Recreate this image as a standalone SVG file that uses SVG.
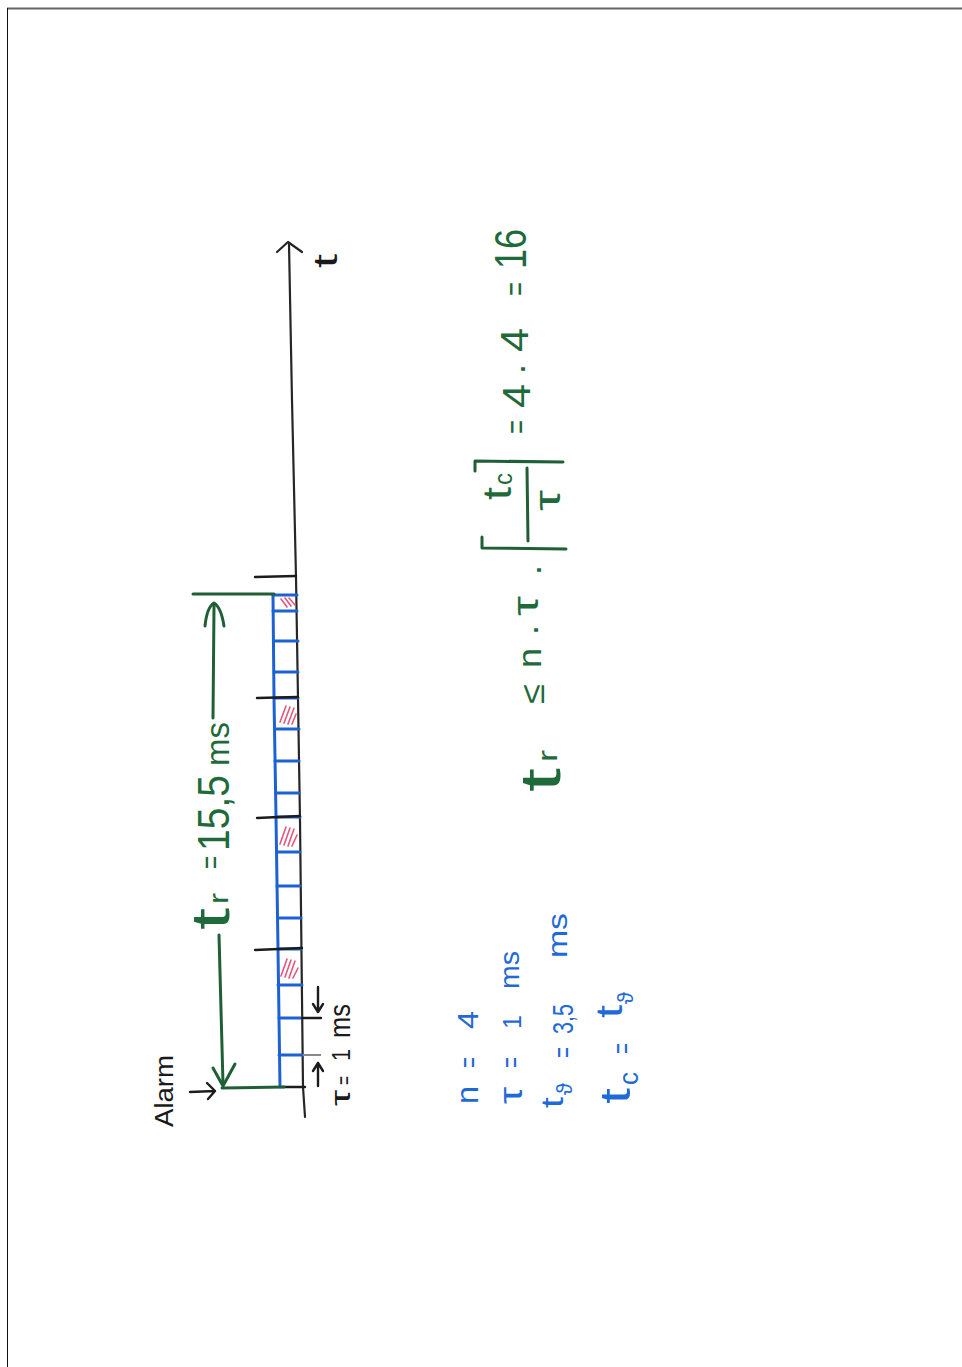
<svg xmlns="http://www.w3.org/2000/svg" width="962" height="1367" viewBox="0 0 962 1367">
<defs>
<style>
.ax{stroke:#262626;stroke-width:2.2;fill:none;stroke-linecap:round;stroke-linejoin:round}
.tk{stroke:#1c1c1c;stroke-width:2.4;fill:none;stroke-linecap:round;stroke-linejoin:round}
.bl{stroke:#1d62d4;stroke-width:3;fill:none;stroke-linecap:round;stroke-linejoin:round}
.gr{stroke:#1f5f35;stroke-width:3;fill:none;stroke-linecap:round;stroke-linejoin:round}
.ht{stroke:#e2577c;stroke-width:1.6;fill:none;stroke-linecap:round}
.tg{fill:#1f6a3a;font-family:"Liberation Sans","DejaVu Sans",sans-serif}
.tb{fill:#1f6ad6;font-family:"Liberation Sans","DejaVu Sans",sans-serif}
.tn{fill:#1a1a1a;font-family:"Liberation Sans","DejaVu Sans",sans-serif}
</style>
</defs>
<rect x="0" y="0" width="962" height="1367" fill="#ffffff"/>
<g id="page-frame">
<path d="M7,8.5 H962" stroke="#666" stroke-width="2" fill="none"/>
<path d="M7.5,8 V1367" stroke="#111" stroke-width="1" fill="none"/>
</g>

<g id="time-axis">
<path class="ax" d="M289,244 L292,400 L296,577 L300,820 L303,1087 L305,1117"/>
<path class="ax" d="M277,252 L288,242 L302,252"/>
<text class="tn" transform="translate(337,268) rotate(-90)" font-size="34" textLength="14" lengthAdjust="spacingAndGlyphs">t</text>
</g>

<g id="cells">
<path class="bl" d="M273,595 L274,698 L276,817 L278,949 L280,1087"/>
<path class="bl" d="M273,595 H297 M273,611 H297 M274,641 H298 M274,672 H298 M274,698 H298 M275,729 H299 M275,761 H299 M276,793 H299 M276,817 H300 M277,852 H300 M277,886 H300 M278,918 H301 M278,949 H301 M278,985 H302 M279,1018 H302 M279,1055 H303"/>
<path class="ht" d="M281,599 L287,607 M285,598 L291,606 M289,598 L295,605"/>
<path class="ht" d="M280,722 L286,706 M284,723 L290,707 M288,724 L294,708 M292,724 L296,714"/>
<path class="ht" d="M280,844 L286,827 M284,845 L290,828 M288,846 L294,829 M292,846 L297,835"/>
<path class="ht" d="M281,976 L287,959 M285,977 L291,960 M289,978 L295,961 M293,978 L298,968"/>
</g>

<g id="ticks">
<path class="tk" d="M255,577 L296,576"/>
<path class="tk" d="M257,698 L298,697"/>
<path class="tk" d="M257,818 L300,816"/>
<path class="tk" d="M255,950 L302,948"/>
<path class="tk" d="M302,1018 L321,1018"/>
<path d="M303,1055 L321,1055" stroke="#888" stroke-width="2" fill="none"/>
<path class="tk" d="M282,1087 L305,1087"/>
</g>

<g id="response-time">
<path class="gr" d="M193,594 L274,594"/>
<path class="gr" d="M222,1088 L284,1087"/>
<text class="tg" transform="translate(229,930) rotate(-90)"><tspan x="0" y="0" font-size="54" textLength="22" lengthAdjust="spacingAndGlyphs">t</tspan><tspan x="26" y="-1" font-size="28" textLength="11" lengthAdjust="spacingAndGlyphs">r</tspan><tspan x="61" y="-8" font-size="32" textLength="13" lengthAdjust="spacingAndGlyphs">=</tspan><tspan x="79" y="0" font-size="44" textLength="76" lengthAdjust="spacingAndGlyphs">15,5</tspan><tspan x="164" y="0" font-size="34" textLength="44" lengthAdjust="spacingAndGlyphs">ms</tspan></text>
</g>

<g id="alarm-label">
<text class="tn" transform="translate(173,1127) rotate(-90)" font-size="25" textLength="72" lengthAdjust="spacingAndGlyphs">Alarm</text>
</g>

<g id="tau-label">
<text class="tn" transform="translate(350,1106) rotate(-90)"><tspan x="0" y="0" font-size="28" textLength="16" lengthAdjust="spacingAndGlyphs">τ</tspan><tspan x="21" y="2" font-size="24" textLength="9" lengthAdjust="spacingAndGlyphs">=</tspan><tspan x="45" y="0" font-size="26" textLength="12" lengthAdjust="spacingAndGlyphs">1</tspan><tspan x="68" y="0" font-size="30" textLength="34" lengthAdjust="spacingAndGlyphs">ms</tspan></text>
</g>

<g id="parameters">
<text class="tb" transform="translate(478,1104) rotate(-90)"><tspan x="0" y="0" font-size="32" textLength="18" lengthAdjust="spacingAndGlyphs">n</tspan><tspan x="36" y="1" font-size="30" textLength="11" lengthAdjust="spacingAndGlyphs">=</tspan><tspan x="75" y="0" font-size="30" textLength="18" lengthAdjust="spacingAndGlyphs">4</tspan></text>
<text class="tb" transform="translate(522,1104) rotate(-90)"><tspan x="0" y="0" font-size="34" textLength="17" lengthAdjust="spacingAndGlyphs">τ</tspan><tspan x="36" y="-1" font-size="30" textLength="11" lengthAdjust="spacingAndGlyphs">=</tspan><tspan x="75" y="-1" font-size="26" textLength="14" lengthAdjust="spacingAndGlyphs">1</tspan><tspan x="115" y="-3" font-size="28" textLength="38" lengthAdjust="spacingAndGlyphs">ms</tspan></text>
<text class="tb" transform="translate(563,1108) rotate(-90)"><tspan x="0" y="0" font-size="32" textLength="11" lengthAdjust="spacingAndGlyphs">t</tspan><tspan x="13" y="9" font-size="22" textLength="12" lengthAdjust="spacingAndGlyphs">ϑ</tspan><tspan x="50" y="10" font-size="30" textLength="11" lengthAdjust="spacingAndGlyphs">=</tspan><tspan x="74" y="10" font-size="30" textLength="30" lengthAdjust="spacingAndGlyphs">3,5</tspan><tspan x="150" y="4" font-size="28" textLength="45" lengthAdjust="spacingAndGlyphs">ms</tspan></text>
<text class="tb" transform="translate(630,1104) rotate(-90)"><tspan x="0" y="0" font-size="42" textLength="16" lengthAdjust="spacingAndGlyphs">t</tspan><tspan x="19" y="8" font-size="28" textLength="13" lengthAdjust="spacingAndGlyphs">c</tspan><tspan x="50" y="2" font-size="30" textLength="11" lengthAdjust="spacingAndGlyphs">=</tspan><tspan x="86" y="-8" font-size="36" textLength="13" lengthAdjust="spacingAndGlyphs">t</tspan><tspan x="100" y="3" font-size="22" textLength="12" lengthAdjust="spacingAndGlyphs">ϑ</tspan></text>
</g>

<g id="formula">
<text class="tg" transform="translate(560,792) rotate(-90)"><tspan x="0" y="0" font-size="58" textLength="24" lengthAdjust="spacingAndGlyphs">t</tspan><tspan x="30" y="-3" font-size="28" textLength="12" lengthAdjust="spacingAndGlyphs">r</tspan><tspan x="88" y="-16" font-size="34" textLength="20" lengthAdjust="spacingAndGlyphs">≤</tspan><tspan x="124" y="-19" font-size="34" textLength="20" lengthAdjust="spacingAndGlyphs">n</tspan><tspan x="156" y="-14" font-size="36">·</tspan><tspan x="176" y="-22" font-size="36" textLength="20" lengthAdjust="spacingAndGlyphs">τ</tspan><tspan x="216" y="-11" font-size="36">·</tspan><tspan x="292" y="-49" font-size="40" textLength="13" lengthAdjust="spacingAndGlyphs">t</tspan><tspan x="307" y="-48" font-size="26" textLength="12" lengthAdjust="spacingAndGlyphs">c</tspan><tspan x="281" y="0" font-size="36" textLength="21" lengthAdjust="spacingAndGlyphs">τ</tspan><tspan x="358" y="-32" font-size="34" textLength="14" lengthAdjust="spacingAndGlyphs">=</tspan><tspan x="384" y="-30" font-size="38" textLength="24" lengthAdjust="spacingAndGlyphs">4</tspan><tspan x="417" y="-27" font-size="36">·</tspan><tspan x="440" y="-32" font-size="38" textLength="24" lengthAdjust="spacingAndGlyphs">4</tspan><tspan x="496" y="-33" font-size="34" textLength="14" lengthAdjust="spacingAndGlyphs">=</tspan><tspan x="523" y="-34" font-size="44" textLength="40" lengthAdjust="spacingAndGlyphs">16</tspan></text>
<path class="gr" d="M482,537 L482,548 L566,549"/>
<path class="gr" d="M527,468 L528,541"/>
<path class="gr" d="M475,471 L475,461 L563,462"/>
</g>

<g id="connectors">
<path class="gr" d="M213,718 L214,606"/>
<path class="gr" d="M205,626 Q207,607 214,603 Q221,607 224,626"/>
<path class="gr" d="M219,935 L223,1084"/>
<path class="gr" d="M213,1068 L223,1086 L235,1064"/>
<path class="tk" d="M190,1092 L215,1091 M207,1083 L215,1091 L208,1099"/>
<path class="tk" d="M318,987 L318,1011 M313,1004 L318,1012 L323,1004"/>
<path class="tk" d="M318,1086 L318,1063 M313,1071 L318,1063 L323,1071"/>
</g>
</svg>
